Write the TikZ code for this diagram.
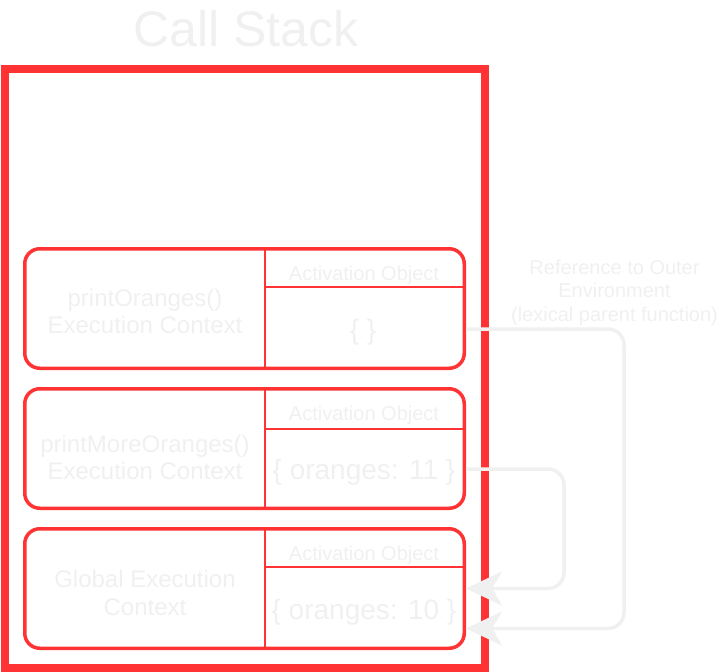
\documentclass[tikz,border=0pt]{standalone}
\usepackage{fontspec}
\setmainfont{Liberation Sans}
\usetikzlibrary{arrows.meta,calc}

\definecolor{stackred}{RGB}{255,51,51}
\definecolor{ghost}{RGB}{240,240,240}

\begin{document}
\begin{tikzpicture}[x=1pt, y=-1pt,
  ctxbox/.style={draw=stackred, line width=3.5pt, rounded corners=15pt, minimum width=439.5pt, minimum height=119.5pt},
  divline/.style={stackred, line width=2pt},
  ctxlabel/.style={ghost, align=center, anchor=base, font=\fontsize{24}{27}\selectfont},
  objhead/.style={ghost, anchor=base, font=\fontsize{20}{24}\selectfont},
  objval/.style={ghost, anchor=base, font=\fontsize{28}{32}\selectfont},
  refline/.style={ghost, line width=3.5pt, rounded corners=16pt, -{Stealth[length=36pt, width=34pt, inset=10pt]}}
]

% Background
\useasboundingbox (0,0) rectangle (726,672);
\node[ghost, anchor=base, font=\fontsize{50}{60}\selectfont] (stacktitle) at (246,46) {Call Stack};

% === CALL STACK FRAME ===
\node[draw=stackred, line width=8pt, minimum width=480pt, minimum height=599pt] (stack) at (245,368.5) {};

% === EXECUTION CONTEXTS ===
\foreach \c/\cy/\hy in {A/308.5/287, B/448.5/429, C/588.5/567} {
  \node[ctxbox] (ctx\c) at (244.5,\cy) {};
  \draw[divline] (265,\cy) ++(0,-59.75) -- ++(0,119.5);
  \draw[divline] (265,\hy) -- (464.25,\hy);
}

% labels sit on the baseline of their last line
\node[ctxlabel] (lblA) at (145,333) {printOranges()\\Execution Context};
\node[ctxlabel] (lblB) at (145,479) {printMoreOranges()\\Execution Context};
\node[ctxlabel] (lblC) at (145,615) {Global Execution\\[1pt]Context};

\foreach \c/\b in {A/280, B/420, C/560}
  \node[objhead] (head\c) at (364,\b) {Activation Object};

\node[objval] (valA) at (363,339.5) {\{ \}};
\node[objval] (valB) at (364,479) {\{ oranges: 11 \}};
\node[objval] (valC) at (364,619) {\{ oranges: 10 \}};

% === OUTER ENVIRONMENT REFERENCES ===
\node[ghost, align=center, anchor=base, font=\fontsize{20}{23.5}\selectfont] (outerlbl) at (614.5,321)
  {Reference to Outer\\Environment\\(lexical parent function)};

\coordinate (outA) at ($(ctxA.east)+(0,20.5)$);
\coordinate (outB) at ($(ctxB.east)+(0,20.5)$);
\coordinate (inA) at ($(ctxC.east)+(0,40)$);
\coordinate (inB) at (ctxC.east);

\draw[refline] (outA) -| ($(inA)+(158,0)$) -- (inA);
\draw[refline] (outB) -| ($(inB)+(98,0)$) -- (inB);

\end{tikzpicture}
\end{document}
